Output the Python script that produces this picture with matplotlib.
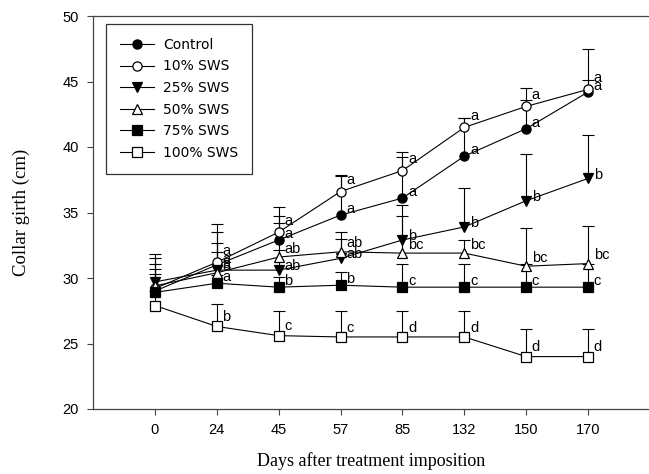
import numpy as np
import matplotlib
matplotlib.use("Agg")
import matplotlib.pyplot as plt

days = ["0", "24", "45", "57", "85", "132", "150", "170"]
series_names = ["Control", "10% SWS", "25% SWS", "50% SWS", "75% SWS", "100% SWS"]

control = [29.0, 31.0, 32.9, 34.8, 36.1, 39.3, 41.4, 44.2]
sws10 = [29.2, 31.2, 33.5, 36.6, 38.2, 41.5, 43.1, 44.4]
sws25 = [29.7, 30.6, 30.6, 31.5, 32.9, 33.9, 35.9, 37.6]
sws50 = [29.4, 30.4, 31.6, 32.0, 31.9, 31.9, 30.9, 31.1]
sws75 = [28.9, 29.6, 29.3, 29.45, 29.3, 29.3, 29.3, 29.3]
sws100 = [27.9, 26.3, 25.6, 25.5, 25.5, 25.5, 24.0, 24.0]

err_control = [2.8, 2.5, 1.8, 3.0, 3.1, 2.9, 3.1, 3.3]
err_sws10 = [2.3, 2.9, 1.9, 1.3, 1.4, 0.7, 0.5, 0.7]
err_sws25 = [1.4, 2.1, 1.5, 2.0, 2.7, 3.0, 3.6, 3.3]
err_sws50 = [1.3, 1.6, 2.6, 1.0, 2.8, 1.0, 2.9, 2.9]
err_sws75 = [1.4, 0.6, 0.8, 1.0, 1.8, 1.8, 1.8, 1.8]
err_sws100 = [1.1, 1.7, 1.9, 2.0, 2.0, 2.0, 2.1, 2.1]

let_control = ["", "a", "a", "a", "a", "a", "a", "a"]
let_sws10 = ["", "a", "a", "a", "a", "a", "a", "a"]
let_sws25 = ["", "a", "ab", "ab", "b", "b", "b", "b"]
let_sws50 = ["", "a", "ab", "ab", "bc", "bc", "bc", "bc"]
let_sws75 = ["", "a", "b", "b", "c", "c", "c", "c"]
let_sws100 = ["", "b", "c", "c", "d", "d", "d", "d"]

values = [control, sws10, sws25, sws50, sws75, sws100]
errors = [err_control, err_sws10, err_sws25, err_sws50, err_sws75, err_sws100]
letters = [let_control, let_sws10, let_sws25, let_sws50, let_sws75, let_sws100]

# marker styles and letter offset (in data units) per series
styles = [
    dict(marker="o", mfc="black", dy=0.45),
    dict(marker="o", mfc="white", dy=0.85),
    dict(marker="v", mfc="black", dy=0.3),
    dict(marker="^", mfc="white", dy=0.65),
    dict(marker="s", mfc="black", dy=0.45),
    dict(marker="s", mfc="white", dy=0.7),
]

fig = plt.figure(figsize=(6.49, 4.74), dpi=100)
W, H = 649, 474
left, right, top, bottom = 93, 650, 16, 409
ax = fig.add_axes([left / W, 1 - bottom / H, (right - left) / W, (bottom - top) / H])

x = np.arange(len(days))
lw = 0.8
for vals, errs in zip(values, errors):
    v = np.array(vals)
    e = np.array(errs)
    ax.vlines(x, v, v + e, color="black", lw=lw, zorder=2)
    ax.plot(x, v + e, linestyle="none", marker="_", markersize=8.6,
            markeredgewidth=lw, color="black", zorder=2)

for vals, st, name in zip(values, styles, series_names):
    ms = 6.6 if st["marker"] in ("o", "s") else 7.0
    ax.plot(x, vals, color="black", lw=lw, marker=st["marker"], markersize=ms,
            markerfacecolor=st["mfc"], markeredgecolor="black",
            markeredgewidth=0.9, label=name, zorder=3)

for vals, lets, st in zip(values, letters, styles):
    for xi, yi, t in zip(x, vals, lets):
        if t:
            ax.text(xi + 0.09, yi + st["dy"], t, ha="left", va="center",
                    fontsize=10.5, family="Liberation Sans", zorder=4)

ax.set_xlim(-1, 8)
ax.set_ylim(20, 50)
ax.set_xticks(x)
ax.set_xticklabels(days)
ax.set_yticks(np.arange(20, 51, 5))
for lab in ax.get_xticklabels() + ax.get_yticklabels():
    lab.set_family("Liberation Sans")
    lab.set_fontsize(10.5)
ax.tick_params(direction="out", length=4.3, width=0.8, color="#444444", pad=6)
for sp in ax.spines.values():
    sp.set_linewidth(0.9)
    sp.set_color("#444444")

ax.set_xlabel("Days after treatment imposition", family="Liberation Serif",
              fontsize=13, labelpad=11)
ax.set_ylabel("Collar girth (cm)", family="Liberation Serif", fontsize=13.5,
              labelpad=23)

leg = ax.legend(loc="upper left", bbox_to_anchor=(0.023, 0.98), borderaxespad=0,
                prop=dict(family="DejaVu Sans", size=10), handlelength=2.5,
                handletextpad=0.6, labelspacing=0.55, borderpad=1.0,
                fancybox=False, framealpha=1)
leg.get_frame().set_edgecolor("#333333")
leg.get_frame().set_linewidth(0.9)

fig.savefig("out.png", dpi=100)
